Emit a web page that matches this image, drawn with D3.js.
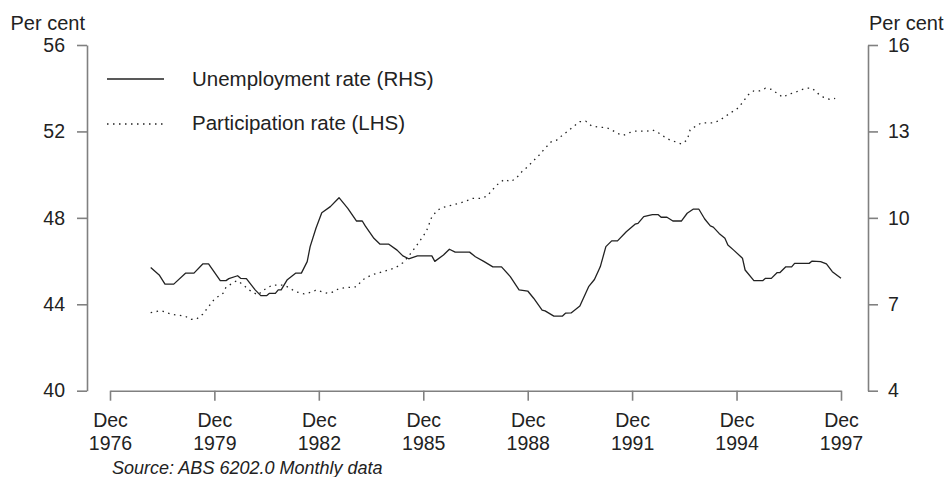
<!DOCTYPE html>
<html><head><meta charset="utf-8">
<script src="https://cdn.jsdelivr.net/npm/d3@7"></script>
<style>
html,body{margin:0;padding:0;background:#fff;}
svg{display:block;font-family:"Liberation Sans",Arial,sans-serif;}
</style></head>
<body><svg id="chart" width="949" height="477"></svg>
<script>
// ---- data ----
const unempMonths = ["1978-02","1978-05","1978-07","1978-10","1979-02","1979-05","1979-08","1979-10","1980-02","1980-04","1980-05","1980-08","1980-09","1980-11","1981-02","1981-04","1981-06","1981-07","1981-09","1981-10","1981-11","1982-01","1982-04","1982-06","1982-08","1982-09","1982-11","1983-01","1983-04","1983-07","1983-10","1984-01","1984-03","1984-04","1984-07","1984-09","1984-12","1985-03","1985-05","1985-07","1985-10","1986-03","1986-04","1986-07","1986-09","1986-11","1987-04","1987-06","1987-09","1987-12","1988-03","1988-06","1988-09","1988-12","1989-02","1989-05","1989-06","1989-09","1989-12","1990-01","1990-03","1990-06","1990-08","1990-09","1990-11","1991-01","1991-03","1991-05","1991-07","1991-10","1992-01","1992-02","1992-04","1992-07","1992-09","1992-10","1992-12","1993-02","1993-05","1993-07","1993-09","1993-11","1994-01","1994-03","1994-04","1994-06","1994-08","1994-09","1994-11","1995-02","1995-03","1995-06","1995-09","1995-10","1995-12","1996-02","1996-03","1996-05","1996-07","1996-08","1997-01","1997-02","1997-05","1997-07","1997-09","1997-12"];
const unempRate = [8.28,8.02,7.70,7.70,8.08,8.08,8.40,8.40,7.82,7.82,7.89,7.99,7.90,7.89,7.50,7.30,7.30,7.38,7.38,7.50,7.50,7.84,8.08,8.08,8.48,9.00,9.64,10.18,10.39,10.70,10.33,9.89,9.89,9.72,9.29,9.09,9.09,8.88,8.68,8.58,8.68,8.68,8.49,8.71,8.91,8.81,8.81,8.65,8.48,8.30,8.30,7.96,7.50,7.46,7.21,6.80,6.77,6.59,6.59,6.69,6.70,6.94,7.38,7.61,7.86,8.30,9.00,9.20,9.20,9.52,9.78,9.81,10.04,10.11,10.11,10.02,10.02,9.89,9.89,10.16,10.30,10.30,9.96,9.72,9.68,9.46,9.29,9.06,8.88,8.60,8.19,7.82,7.82,7.90,7.90,8.10,8.10,8.30,8.30,8.42,8.42,8.50,8.48,8.40,8.13,7.90];

const partMonths = ["1978-02","1978-05","1978-06","1978-09","1978-12","1979-02","1979-04","1979-06","1979-08","1979-10","1979-12","1980-03","1980-04","1980-07","1980-08","1980-10","1980-12","1981-03","1981-05","1981-07","1981-08","1981-12","1982-02","1982-04","1982-07","1982-10","1982-11","1983-01","1983-03","1983-05","1983-07","1983-11","1984-01","1984-03","1984-06","1984-08","1984-11","1985-02","1985-03","1985-05","1985-07","1985-09","1985-11","1986-01","1986-02","1986-03","1986-05","1986-07","1986-10","1987-01","1987-03","1987-05","1987-08","1987-10","1987-12","1988-02","1988-04","1988-06","1988-08","1988-10","1988-12","1989-02","1989-04","1989-06","1989-08","1989-10","1989-12","1990-02","1990-04","1990-06","1990-08","1990-10","1991-01","1991-03","1991-05","1991-07","1991-09","1991-11","1992-01","1992-03","1992-05","1992-07","1992-09","1992-11","1993-01","1993-03","1993-05","1993-07","1993-08","1993-10","1993-12","1994-02","1994-04","1994-06","1994-08","1994-10","1994-12","1995-02","1995-04","1995-06","1995-08","1995-10","1995-12","1996-02","1996-04","1996-06","1996-08","1996-10","1996-12","1997-02","1997-04","1997-06","1997-08","1997-10"];
const partRate = [43.61,43.69,43.69,43.54,43.49,43.44,43.30,43.33,43.54,43.89,44.24,44.51,44.79,45.04,45.09,44.89,44.66,44.43,44.66,44.81,44.89,44.89,44.74,44.58,44.48,44.58,44.66,44.58,44.51,44.57,44.73,44.79,44.81,45.12,45.35,45.43,45.55,45.67,45.74,45.92,46.23,46.59,46.97,47.36,47.72,48.05,48.36,48.49,48.59,48.70,48.79,48.90,48.90,49.01,49.32,49.60,49.78,49.67,49.83,50.14,50.37,50.65,50.91,51.22,51.51,51.60,51.83,52.03,52.25,52.45,52.48,52.25,52.19,52.19,52.07,51.91,51.82,51.94,52.01,52.01,52.01,52.07,51.94,51.76,51.60,51.52,51.42,51.60,52.07,52.25,52.40,52.40,52.40,52.50,52.68,52.87,53.02,53.33,53.69,53.88,53.88,54.00,53.95,53.76,53.58,53.73,53.79,53.92,54.00,54.00,53.76,53.58,53.49,53.53];

const xTickMonths = ["1976-12","1979-12","1982-12","1985-12","1988-12","1991-12","1994-12","1997-12"];
const leftTicks = [40,44,48,52,56];
const rightTicks = [4,7,10,13,16];
const legendLabels = ["Unemployment rate (RHS)","Participation rate (LHS)"];
const axisTitle = "Per cent";
const sourceText = "Source: ABS 6202.0 Monthly data";

// ---- drawing ----
const parse = d3.timeParse("%Y-%m");
const svg = d3.select("#chart");
const ink = "#222";
const axisCol = "#808080";
const fs = 19.5;

const x = d3.scaleTime().domain([parse("1976-12"), parse("1997-12")]).range([110, 841]);
const yL = d3.scaleLinear().domain([40, 56]).range([390.7, 45]);
const yR = d3.scaleLinear().domain([4, 16]).range([390.7, 45]);

function styleAxis(g){
  g.selectAll("path.domain").attr("stroke", axisCol).attr("stroke-width", 1.6);
  g.selectAll(".tick line").attr("stroke", axisCol).attr("stroke-width", 1.6);
  g.selectAll(".tick text").attr("fill", ink).style("font-size", fs + "px")
    .style("font-family", '"Liberation Sans",Arial,sans-serif');
}

// left axis
const gL = svg.append("g").attr("transform", "translate(87,0)")
  .call(d3.axisLeft(yL).tickValues(leftTicks).tickSize(10).tickSizeOuter(0).tickPadding(12));
styleAxis(gL);

// right axis
const gR = svg.append("g").attr("transform", "translate(868,0)")
  .call(d3.axisRight(yR).tickValues(rightTicks).tickSize(10).tickSizeOuter(0).tickPadding(10));
styleAxis(gR);

// x axis
const gX = svg.append("g").attr("transform", "translate(0,390.7)")
  .call(d3.axisBottom(x).tickValues(xTickMonths.map(parse)).tickSize(10).tickSizeOuter(0).tickFormat(() => ""));
styleAxis(gX);
gX.selectAll(".tick").each(function(d){
  const t = d3.select(this).select("text").attr("y", null).attr("dy", null);
  t.append("tspan").attr("x", 0).attr("y", 36.5).text(d3.timeFormat("%b")(d));
  t.append("tspan").attr("x", 0).attr("y", 59.5).text(d3.timeFormat("%Y")(d));
});

// axis titles
svg.append("text").attr("x", 10.5).attr("y", 29.5).attr("fill", ink)
  .style("font-size", "20px").text(axisTitle);
svg.append("text").attr("x", 869).attr("y", 29.5).attr("fill", ink)
  .style("font-size", "20px").text(axisTitle);

// lines
const unemp = unempMonths.map((m, i) => ({d: parse(m), v: unempRate[i]}));
const part = partMonths.map((m, i) => ({d: parse(m), v: partRate[i]}));

svg.append("path").datum(part)
  .attr("fill", "none").attr("stroke", ink).attr("stroke-width", 1.3)
  .attr("stroke-dasharray", "1.5,4.5")
  .attr("d", d3.line().x(p => x(p.d)).y(p => yL(p.v)));

svg.append("path").datum(unemp)
  .attr("fill", "none").attr("stroke", ink).attr("stroke-width", 1.3)
  .attr("stroke-linejoin", "round")
  .attr("d", d3.line().x(p => x(p.d)).y(p => yR(p.v)));

// legend
const leg = svg.append("g");
leg.append("line").attr("x1", 107).attr("x2", 164).attr("y1", 79).attr("y2", 79)
  .attr("stroke", ink).attr("stroke-width", 1.3);
leg.append("text").attr("x", 192).attr("y", 86).attr("fill", ink)
  .style("font-size", "20.5px").text(legendLabels[0]);
leg.append("line").attr("x1", 107).attr("x2", 164).attr("y1", 124).attr("y2", 124)
  .attr("stroke", ink).attr("stroke-width", 1.3).attr("stroke-dasharray", "1.5,4.5");
leg.append("text").attr("x", 192).attr("y", 130).attr("fill", ink)
  .style("font-size", "20.5px").text(legendLabels[1]);

// source
svg.append("text").attr("x", 112).attr("y", 474).attr("fill", ink)
  .style("font-size", "18px").style("font-style", "italic").text(sourceText);
</script>
</body></html>
